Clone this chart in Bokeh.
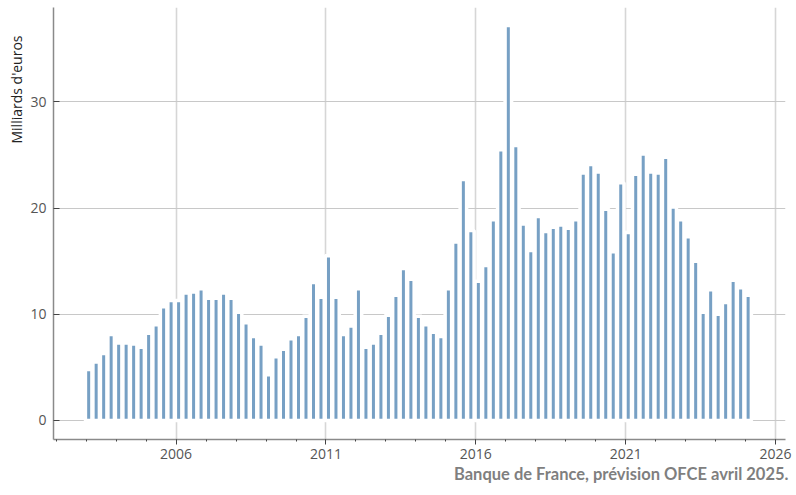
from bokeh.plotting import figure
from bokeh.models import ColumnDataSource, FixedTicker, Range1d, Title
from bokeh.embed import file_html
from bokeh.resources import INLINE

# Quarterly series, 2003 Q1 -> 2025 Q1 (billions of euros)
start_year = 2003
values = [
    4.8, 5.5, 6.3, 8.1,      # 2003
    7.3, 7.3, 7.2, 6.9,      # 2004
    8.2, 9.0, 10.7, 11.3,    # 2005
    11.3, 12.0, 12.1, 12.4,  # 2006
    11.5, 11.5, 12.0, 11.5,  # 2007
    10.2, 9.2, 7.9, 7.2,     # 2008
    4.3, 6.0, 6.7, 7.7,      # 2009
    8.1, 9.8, 13.0, 11.6,    # 2010
    15.5, 11.6, 8.1, 8.9,    # 2011
    12.4, 6.9, 7.3, 8.2,     # 2012
    9.9, 11.8, 14.3, 13.3,   # 2013
    9.8, 9.0, 8.3, 7.9,      # 2014
    12.4, 16.8, 22.7, 17.9,  # 2015
    13.1, 14.6, 18.9, 25.5,  # 2016
    37.2, 25.9, 18.5, 16.0,  # 2017
    19.2, 17.8, 18.2, 18.4,  # 2018
    18.1, 18.9, 23.3, 24.1,  # 2019
    23.4, 19.9, 15.9, 22.4,  # 2020
    17.7, 23.2, 25.1, 23.4,  # 2021
    23.3, 24.8, 20.1, 18.9,  # 2022
    17.3, 15.0, 10.2, 12.3,  # 2023
    10.0, 11.1, 13.2, 12.5,  # 2024
    11.8,                    # 2025
]
years = [start_year + i // 4 for i in range(len(values))]
quarters = [i % 4 + 1 for i in range(len(values))]
x_pos = [y + (q - 1) / 4 + 1 / 12 for y, q in zip(years, quarters)]

x_ticks = [2006, 2011, 2016, 2021, 2026]
x_minor = list(range(2002, 2027))
y_ticks = [0, 10, 20, 30]

y_title = "Milliards d'euros"
source_text = "Banque de France, prévision OFCE avril 2025."

src = ColumnDataSource(dict(x=x_pos, v=values))

p = figure(width=793, height=493, output_backend="svg", toolbar_location=None,
           x_range=Range1d(2001.91, 2026.33), y_range=Range1d(-1.8, 38.9),
           min_border_left=53, min_border_right=8, min_border_top=7,
           min_border_bottom=54)
p.outline_line_color = None
p.background_fill_color = "white"

p.vbar(x="x", top="v", bottom=0, width=0.217, source=src,
       fill_color="#77a0c4", line_color="white", line_width=3.5)

# axes
for ax in (p.xaxis[0], p.yaxis[0]):
    ax.axis_line_color = "#8a8a8a"
    ax.axis_line_width = 1.5
    ax.major_tick_line_color = "#444444"
    ax.minor_tick_line_color = "#444444"
    ax.major_label_text_font = "Open Sans"
    ax.major_label_text_font_size = "14px"
    ax.major_label_text_color = "#555555"

p.xaxis.ticker = FixedTicker(ticks=x_ticks, minor_ticks=x_minor)
p.xaxis.major_tick_in = 0
p.xaxis.major_tick_out = 5
p.xaxis.minor_tick_in = 0
p.xaxis.minor_tick_out = 2
p.xaxis.major_label_standoff = 4

p.yaxis.ticker = FixedTicker(ticks=y_ticks)
p.yaxis.major_tick_in = 6
p.yaxis.major_tick_out = 0
p.yaxis.minor_tick_line_color = None
p.yaxis.major_label_standoff = 7

p.xgrid.grid_line_color = "#d6d6d6"
p.xgrid.grid_line_width = 1.6
p.ygrid.grid_line_color = "#c8c8c8"
p.ygrid.grid_line_width = 1

p.add_layout(Title(text=y_title, align="right", text_font="Open Sans",
                   text_font_size="14px", text_font_style="normal",
                   text_color="#222222", standoff=4, offset=28), "left")
p.add_layout(Title(text=source_text, align="right", text_font="Lato",
                   text_font_size="16.5px", text_font_style="bold",
                   text_color="#7f7f7f", standoff=0, offset=-3), "below")

open("out.html", "w").write(file_html(p, INLINE))
